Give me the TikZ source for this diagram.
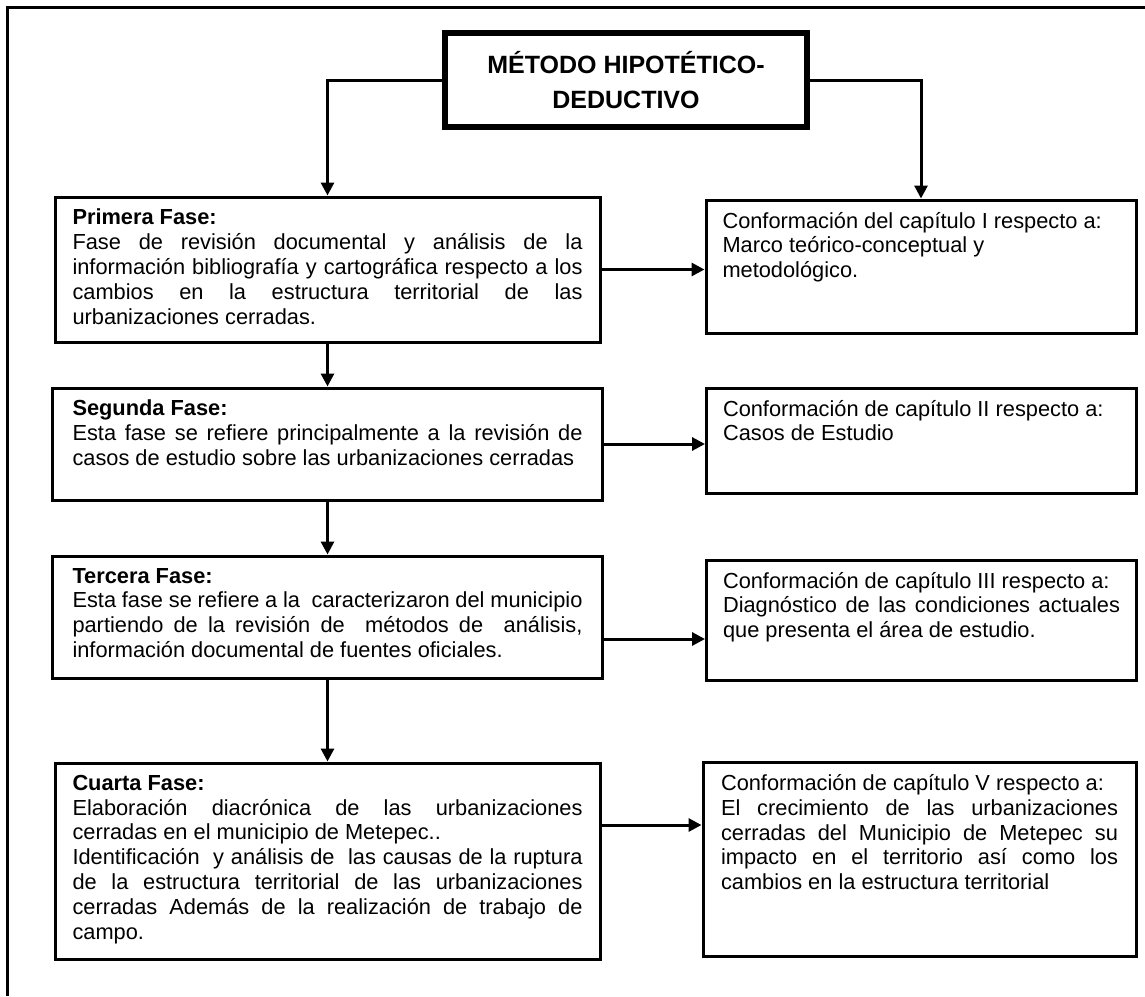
\documentclass[tikz,border=0pt]{standalone}
\usepackage{fontspec}
\setmainfont{Liberation Sans}
\usetikzlibrary{positioning, arrows.meta}
\newcommand{\cuerpo}{\fontsize{10.9}{12.4}\selectfont}
\newcommand{\textocaja}[3]{\parbox[c][#1][t]{#2}{\cuerpo #3}}
\tikzset{
  fase/.style={rectangle, draw=black, line width=1.5pt, inner xsep=8.75pt, inner ysep=6pt},
  capitulo/.style={rectangle, draw=black, line width=1.5pt, inner xsep=8.25pt, inner ysep=6pt},
  titulo/.style={rectangle, draw=black, line width=3pt, align=center, minimum width=181pt, minimum height=47pt,
    font=\fontsize{12.5}{17.5}\selectfont\bfseries},
  flecha/.style={line width=1.5pt, -{Triangle[length=6.5pt,width=6.5pt]}},
  marco/.style={line width=1.5pt}
}

\begin{document}
\begin{tikzpicture}[x=0.5pt, y=-0.5pt]
  \useasboundingbox (0,0) rectangle (1145,996);
  %frame cut by the page
  \coordinate (marcoD) at (1145,7);
  \coordinate (marcoI) at (7,7);
  \coordinate (marcoB) at (7,996);
  \draw[marco] (marcoD) -- (marcoI) -- (marcoB);

  \node[titulo] (tit) at (626,80) {MÉTODO HIPOTÉTICO-\\DEDUCTIVO};

  %phases on the left
  \node[fase] (prim) at (327.5,269.5) {\textocaja{60.5pt}{255pt}{\textbf{Primera Fase:}\\
    Fase de revisión documental y análisis de la\linebreak
    información bibliografía y cartográfica respecto a los\linebreak
    cambios en la estructura territorial de las\linebreak
    urbanizaciones cerradas.}};
  \node[fase, minimum width=275pt, below = 21.5pt of prim] (seg) {\textocaja{44pt}{255pt}{\textbf{Segunda Fase:}\\
    Esta fase se refiere principalmente a la revisión de\linebreak
    casos de estudio sobre las urbanizaciones cerradas}};
  \node[fase, minimum width=275pt, below = 26.5pt of seg] (ter) {\textocaja{49pt}{255pt}{\textbf{Tercera Fase:}\\
    Esta fase se refiere a la\ \ caracterizaron del municipio\linebreak
    partiendo de la revisión de\ \ métodos de\ \ análisis,\linebreak
    información documental de fuentes oficiales.}};
  \node[fase, below = 41pt of ter] (cua) {\textocaja{86pt}{255pt}{\textbf{Cuarta Fase:}\\
    Elaboración diacrónica de las urbanizaciones\linebreak
    cerradas en el municipio de Metepec..\\
    Identificación\ \ y análisis de\ \ las causas de la ruptura\linebreak
    de la estructura territorial de las urbanizaciones\linebreak
    cerradas Además de la realización de trabajo de\linebreak
    campo.}};

  %chapters on the right
  \node[capitulo, right = 51.5pt of prim, yshift=1.5pt] (cap1) {\textocaja{54.5pt}{198.5pt}{Conformación del capítulo I respecto a:\\
    Marco teórico-conceptual y\\
    metodológico.}};
  \node[capitulo, right = 50.5pt of seg, yshift=1.75pt] (cap2) {\textocaja{40.5pt}{198.5pt}{Conformación de capítulo II respecto a:\\
    Casos de Estudio}};
  \node[capitulo, right = 50.5pt of ter, yshift=-1.5pt] (cap3) {\textocaja{48pt}{198.5pt}{Conformación de capítulo III respecto a:\\
    Diagnóstico de las condiciones actuales\linebreak
    que presenta el área de estudio.}};
  \node[capitulo, right = 50pt of cua, yshift=0.75pt, inner xsep=9pt] (cap4) {\textocaja{85pt}{198.5pt}{Conformación de capítulo V respecto a:\\
    El crecimiento de las urbanizaciones\linebreak
    cerradas del Municipio de Metepec su\linebreak
    impacto en el territorio así como los\linebreak
    cambios en la estructura territorial}};

  %connectors
  \draw[flecha] (tit.west) -| (prim.north);
  \draw[flecha] (tit.east) -| (cap1.north);
  \draw[flecha] (prim.south) -- (seg.north);
  \draw[flecha] (seg.south) -- (ter.north);
  \draw[flecha] (ter.south) -- (cua.north);
  \draw[flecha] (prim.east) -- (prim.east -| cap1.west);
  \draw[flecha] (seg.east) -- (seg.east -| cap2.west);
  \draw[flecha] ([yshift=-11pt]ter.east) -- ([yshift=-11pt]ter.east -| cap3.west);
  \draw[flecha] ([yshift=18pt]cua.east) -- ([yshift=18pt]cua.east -| cap4.west);
\end{tikzpicture}
\end{document}
